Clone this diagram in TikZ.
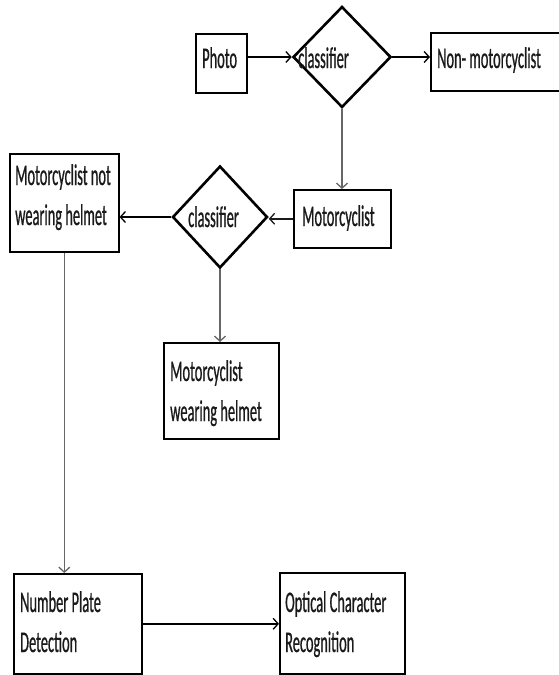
\documentclass[tikz,border=0pt]{standalone}
\usepackage{fontspec}
\setmainfont{Carlito}[FakeStretch=0.48,FakeBold=0.6]
\usetikzlibrary{shapes.geometric,arrows.meta}
\definecolor{grayline}{HTML}{666666}
\definecolor{txt}{HTML}{1A1A1A}
\begin{document}
\begin{tikzpicture}[x=1pt,y=-1pt,
  box/.style={draw, line width=1.6pt, inner sep=0pt, anchor=north west},
  decision/.style={draw, diamond, line width=2.6pt, inner sep=0pt},
  lbl/.style={anchor=base west, inner sep=0pt, text=txt, font=\fontsize{30}{39}\selectfont},
  tip/.style={-{Straight Barb[length=5pt,width=11pt,line width=1.3pt]}},
  mainarrow/.style={tip, line width=1.6pt, black},
  thinarrow/.style={tip, line width=1.2pt, grayline}]
\useasboundingbox (0,0) rectangle (559,675);
\fill[white] (0,0) rectangle (559,675);

% boxes
\node[box, minimum width=51pt, minimum height=59pt] (photo) at (195,33) {};
\node[box, minimum width=140pt, minimum height=58pt] (nonmoto) at (430,32) {};
\node[box, minimum width=97pt, minimum height=58pt] (moto) at (293,189) {};
\node[box, minimum width=109pt, minimum height=98pt] (notwear) at (9,153) {};
\node[box, minimum width=115pt, minimum height=96pt] (wear) at (163,342) {};
\node[box, minimum width=128pt, minimum height=100pt] (plate) at (13,573) {};
\node[box, minimum width=125pt, minimum height=101pt] (ocr) at (279,572) {};

% decisions
\node[decision, minimum width=98pt, minimum height=101pt] (d1) at (342,57) {};
\node[decision, minimum width=95pt, minimum height=102pt] (d2) at (220,217) {};

% texts
\node[lbl] (photoT) at (202,68) {Photo};
\node[lbl] (d1T) at (298,68) {classifier};
\node[lbl] (nonmotoT) at (437,68) {Non- motorcyclist};
\node[lbl] (motoT) at (302,226) {Motorcyclist};
\node[lbl] (d2T) at (188,227) {classifier};
\node[lbl] (notwearA) at (15,185) {Motorcyclist not};
\node[lbl] (notwearB) at (15,225) {wearing helmet};
\node[lbl] (wearA) at (170,381) {Motorcyclist};
\node[lbl] (wearB) at (170,421) {wearing helmet};
\node[lbl] (plateA) at (20,612) {Number Plate};
\node[lbl] (plateB) at (20,652) {Detection};
\node[lbl] (ocrA) at (285,612) {Optical Character};
\node[lbl] (ocrB) at (285,652) {Recognition};

% connectors
\draw[mainarrow] (photo.east |- d1.west) -- (d1.west);
\draw[mainarrow] (d1.east) -- (d1.east -| nonmoto.west);
\draw[thinarrow] (d1.south) -- (d1.south |- moto.north);
\draw[mainarrow, draw=txt] (moto.west) -- (moto.west -| d2.east);
\draw[mainarrow] (d2.west) -- (d2.west -| notwear.east);
\draw[thinarrow] (d2.south) -- (d2.south |- wear.north);
\draw[thinarrow] (notwear.south) -- (notwear.south |- plate.north);
\draw[mainarrow] (plate.east) -- (plate.east -| ocr.west);
\end{tikzpicture}
\end{document}
